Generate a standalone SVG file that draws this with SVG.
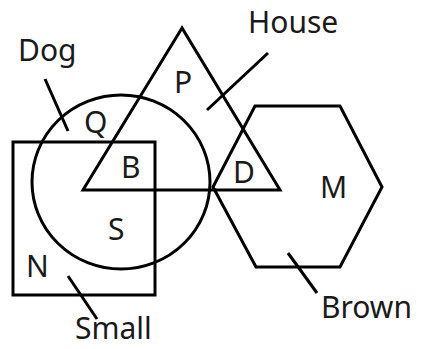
<svg xmlns="http://www.w3.org/2000/svg" width="423" height="349" viewBox="0 0 423 349">
<style>
.s{fill:none;stroke:#000;stroke-width:3;stroke-linejoin:miter}
.l{stroke:#000;stroke-width:3;fill:none}
.t{font-family:"Noto Sans","Open Sans","Liberation Sans",sans-serif;font-size:30px;fill:#1a1a1a}
</style>
<rect width="423" height="349" fill="#fff"/>
<g id="small"><rect class="s" x="13" y="142" width="142" height="153"/></g>
<g id="dog"><ellipse class="s" cx="121" cy="182" rx="89" ry="87"/></g>
<g id="house"><polygon class="s" points="182,28 83,190 280,190"/></g>
<g id="brown"><polygon class="s" points="255,106 340,106 382,187 340,267 256,267 213,187"/></g>
<g id="connectors">
<line class="l" x1="45" y1="79" x2="68" y2="131"/>
<line class="l" x1="268" y1="53" x2="207" y2="110"/>
<line class="l" x1="68" y1="276" x2="97" y2="319"/>
<line class="l" x1="288" y1="253" x2="317" y2="293"/>
</g>
<g id="labels">
<text class="t" x="75" y="339">Small</text>
<text class="t" x="18" y="61">Dog</text>
<text class="t" x="248" y="33">House</text>
<text class="t" x="321" y="318">Brown</text>
<text class="t" x="174" y="93">P</text>
<text class="t" x="84" y="133">Q</text>
<text class="t" x="121" y="178">B</text>
<text class="t" x="233" y="183">D</text>
<text class="t" x="320" y="198">M</text>
<text class="t" x="108" y="240">S</text>
<text class="t" x="26" y="277">N</text>
</g>
</svg>
